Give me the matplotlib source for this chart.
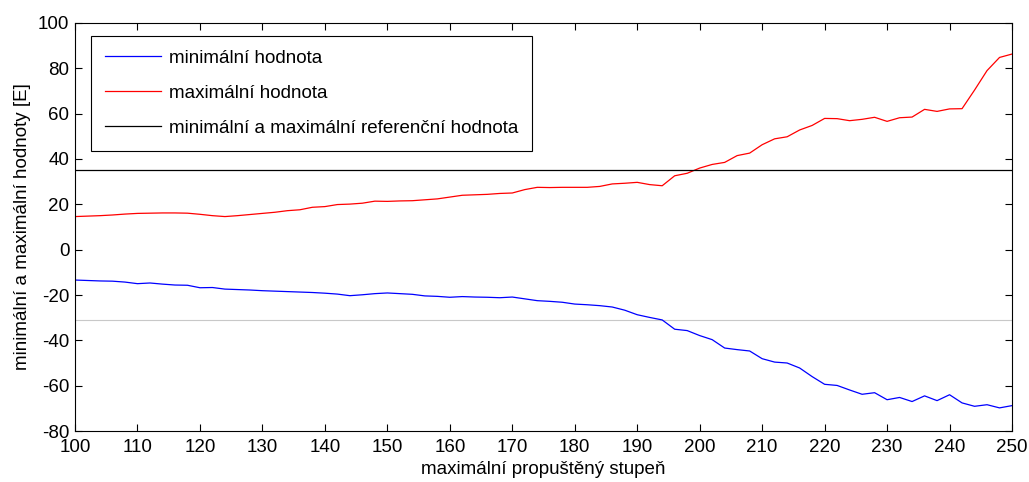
import numpy as np
import matplotlib
matplotlib.use('Agg')
import matplotlib.pyplot as plt

plt.rcParams['font.family'] = ['Liberation Sans', 'DejaVu Sans']
plt.rcParams['axes.unicode_minus'] = False

# maximum passed degree (x axis)
stupen = np.arange(100, 252, 2)

min_hodnota = [
    -13.4, -13.6, -13.8, -13.9, -14.3, -15.0, -14.7, -15.2, -15.6, -15.7,
    -16.8, -16.7, -17.4, -17.6, -17.8, -18.1, -18.3, -18.5, -18.7, -18.9,
    -19.2, -19.6, -20.3, -19.9, -19.4, -19.1, -19.4, -19.7, -20.4, -20.6,
    -21.0, -20.7, -20.9, -21.0, -21.2, -20.9, -21.7, -22.5, -22.8, -23.2,
    -24.0, -24.3, -24.7, -25.3, -26.7, -28.7, -29.9, -31.0, -35.1, -35.7,
    -37.9, -39.7, -43.4, -44.1, -44.7, -48.1, -49.6, -50.0, -52.2, -56.0,
    -59.4, -59.9, -61.9, -63.8, -63.1, -66.2, -65.2, -67.0, -64.5, -66.6,
    -64.0, -67.6, -69.1, -68.4, -69.8, -68.8,
]

max_hodnota = [
    14.6, 14.8, 15.0, 15.3, 15.7, 16.0, 16.1, 16.2, 16.2, 16.1,
    15.6, 15.0, 14.6, 15.0, 15.5, 16.0, 16.5, 17.2, 17.6, 18.7,
    19.0, 19.9, 20.1, 20.5, 21.4, 21.3, 21.5, 21.6, 22.0, 22.4,
    23.2, 24.0, 24.2, 24.4, 24.8, 25.0, 26.5, 27.5, 27.4, 27.5,
    27.5, 27.5, 27.9, 29.0, 29.3, 29.7, 28.7, 28.2, 32.6, 33.7,
    36.0, 37.6, 38.5, 41.5, 42.6, 46.3, 48.9, 49.8, 52.8, 54.8,
    57.9, 57.8, 56.9, 57.5, 58.4, 56.6, 58.2, 58.5, 61.9, 61.0,
    62.1, 62.2, 70.4, 79.0, 84.8, 86.3,
]

# reference values
ref_max = 35.2
ref_min = -31.0

FS = 13.5

fig = plt.figure(figsize=(10.29, 4.82), dpi=100)
ax = fig.add_axes([0.0729, 0.1058, 0.9106, 0.8465])

ax.axhline(ref_min, color='#c8c8c8', linewidth=0.8)
ax.plot(stupen, min_hodnota, color='#0000ff', linewidth=0.9, label='minimální hodnota')
ax.plot(stupen, max_hodnota, color='#ff0000', linewidth=0.9, label='maximální hodnota')
ax.axhline(ref_max, color='black', linewidth=0.9,
           label='minimální a maximální referenční hodnota')

ax.set_xlim(100, 250)
ax.set_ylim(-80, 100)
ax.set_xticks(np.arange(100, 251, 10))
ax.set_yticks(np.arange(-80, 101, 20))
ax.tick_params(direction='in', top=True, right=True, labelsize=FS, length=5,
               width=0.8)
ax.tick_params(axis='x', pad=6)
ax.tick_params(axis='y', pad=4)
for s in ax.spines.values():
    s.set_linewidth(0.8)

ax.set_xlabel('maximální propuštěný stupeň', fontsize=FS, labelpad=3)
ax.set_ylabel('minimální a maximální hodnoty [E]', fontsize=FS, labelpad=5)

leg = ax.legend(loc='upper left', bbox_to_anchor=(0.0168, 0.969), fontsize=FS,
                fancybox=False, framealpha=1, edgecolor='black',
                handlelength=3.0, handletextpad=0.4, labelspacing=0.95,
                borderpad=0.75, borderaxespad=0)
leg.get_frame().set_linewidth(0.8)

fig.savefig('out.png', dpi=100)
